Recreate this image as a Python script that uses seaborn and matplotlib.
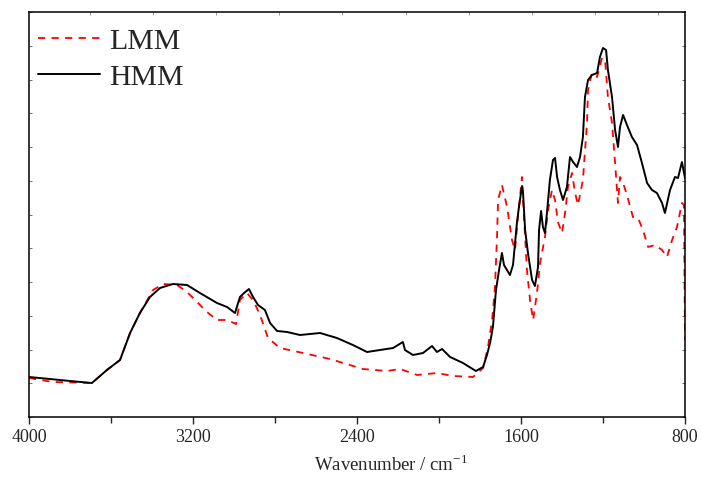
import numpy as np
import pandas as pd
import matplotlib
matplotlib.use("Agg")
import matplotlib.pyplot as plt
from matplotlib.ticker import MultipleLocator, NullFormatter
import seaborn as sns

# HMM spectrum (wavenumber, absorbance a.u.)
wn_hmm = [4000, 3898, 3800, 3693, 3620, 3556, 3507, 3459, 3410, 3361, 3298, 3229, 3166, 3083,
          3034, 2995, 2971, 2951, 2927, 2907, 2883, 2849, 2824, 2790, 2741, 2678, 2580, 2498,
          2420, 2351, 2288, 2224, 2176, 2166, 2127, 2078, 2034, 2010, 1985, 1946, 1883, 1820,
          1785, 1766, 1751, 1737, 1722, 1707, 1693, 1683, 1654, 1639, 1620, 1610, 1595, 1590,
          1580, 1566, 1546, 1532, 1517, 1512, 1502, 1493, 1483, 1473, 1459, 1444, 1434, 1424,
          1410, 1395, 1376, 1361, 1346, 1327, 1312, 1298, 1288, 1273, 1254, 1229, 1215, 1200,
          1185, 1176, 1156, 1141, 1127, 1117, 1102, 1083, 1059, 1034, 1010, 985, 961, 937,
          912, 898, 873, 849, 834, 815, 800]
abs_hmm = [0.40, 0.38, 0.36, 0.34, 0.47, 0.57, 0.84, 1.04, 1.20, 1.29, 1.33, 1.32, 1.24, 1.14,
           1.10, 1.04, 1.20, 1.24, 1.28, 1.20, 1.12, 1.07, 0.94, 0.86, 0.85, 0.82, 0.84, 0.79,
           0.72, 0.65, 0.67, 0.69, 0.75, 0.67, 0.62, 0.64, 0.71, 0.65, 0.68, 0.60, 0.54, 0.46,
           0.50, 0.62, 0.74, 0.90, 1.27, 1.47, 1.64, 1.52, 1.42, 1.52, 1.94, 2.10, 2.31, 2.24,
           1.87, 1.64, 1.37, 1.31, 1.50, 1.87, 2.06, 1.90, 1.84, 2.05, 2.37, 2.57, 2.59, 2.40,
           2.27, 2.17, 2.30, 2.60, 2.55, 2.50, 2.60, 2.80, 3.20, 3.37, 3.42, 3.44, 3.60, 3.69,
           3.67, 3.47, 3.20, 2.87, 2.70, 2.90, 3.02, 2.92, 2.80, 2.72, 2.54, 2.34, 2.27, 2.24,
           2.14, 2.04, 2.27, 2.40, 2.39, 2.55, 2.39]

# LMM spectrum
wn_lmm = [4000, 3883, 3693, 3620, 3556, 3507, 3459, 3395, 3346, 3278, 3229, 3180, 3132, 3083,
          3034, 2990, 2971, 2937, 2907, 2873, 2834, 2776, 2663, 2532, 2371, 2254, 2190, 2107,
          2010, 1932, 1834, 1785, 1761, 1741, 1727, 1717, 1712, 1693, 1668, 1644, 1629, 1615,
          1595, 1590, 1571, 1556, 1541, 1522, 1507, 1483, 1468, 1449, 1434, 1420, 1400, 1385,
          1371, 1351, 1337, 1322, 1298, 1278, 1273, 1254, 1229, 1205, 1190, 1176, 1156, 1141,
          1127, 1117, 1102, 1083, 1054, 1029, 1005, 980, 946, 912, 888, 863, 839, 815, 805, 800]
abs_lmm = [0.39, 0.35, 0.34, 0.47, 0.57, 0.84, 1.04, 1.27, 1.33, 1.32, 1.25, 1.15, 1.05, 0.97,
           0.97, 0.93, 1.17, 1.24, 1.17, 1.02, 0.79, 0.69, 0.64, 0.58, 0.48, 0.46, 0.48, 0.42,
           0.44, 0.41, 0.40, 0.49, 0.70, 0.97, 1.30, 1.80, 2.17, 2.32, 2.10, 1.77, 1.67, 2.00,
           2.40, 2.17, 1.47, 1.17, 0.97, 1.24, 1.54, 1.80, 2.07, 2.27, 2.17, 1.95, 1.84, 2.04,
           2.30, 2.44, 2.25, 2.12, 2.37, 2.94, 3.27, 3.44, 3.40, 3.59, 3.57, 3.20, 2.94, 2.54,
           2.14, 2.40, 2.34, 2.22, 2.00, 1.99, 1.87, 1.70, 1.72, 1.67, 1.60, 1.77, 1.90, 2.14, 2.12, 0.77]

x_ticks = [4000, 3200, 2400, 1600, 800]

sns.set_style("ticks")
plt.rcParams['font.family'] = ['Liberation Serif', 'DejaVu Serif']
plt.rcParams['mathtext.fontset'] = 'custom'
plt.rcParams['mathtext.rm'] = 'Liberation Serif'

fig = plt.figure(figsize=(7.01, 4.80), dpi=100)
ax = fig.add_axes([29/701, 1-417/480, (685-29)/701, (417-12)/480])

df_l = pd.DataFrame({"wn": wn_lmm, "a": abs_lmm})
df_h = pd.DataFrame({"wn": wn_hmm, "a": abs_hmm})

sns.lineplot(data=df_l, x="wn", y="a", ax=ax, color="#ff0000", lw=1.3,
             estimator=None, sort=False, label="LMM", dashes=False)
ax.lines[-1].set_dashes((4, 3.5))
sns.lineplot(data=df_h, x="wn", y="a", ax=ax, color="black", lw=1.4,
             estimator=None, sort=False, label="HMM")

ax.set_xlim(4000, 800)
ax.set_ylim(0, 4.05)
ax.set_xticks(x_ticks)
ax.set_xticklabels([str(t) for t in x_ticks])
ax.xaxis.set_minor_locator(MultipleLocator(400))
ax.tick_params(axis='x', which='major', direction='out', length=5, width=1.0,
               labelsize=13, pad=4, top=False)
ax.tick_params(axis='x', which='minor', direction='out', length=4, width=1.0, top=False)

ax.set_yticks(np.linspace(0, 4.05, 13))
ax.yaxis.set_major_formatter(NullFormatter())
ax.tick_params(axis='y', which='major', direction='in', length=2, width=0.6,
               left=True, right=True, color='#555555')

# top tiny ticks
sec = ax.secondary_xaxis('top')
sec.set_xticks([3703, 3395, 3087, 2779, 2471, 2163, 1855, 1547, 1239, 931])
sec.tick_params(axis='x', direction='in', length=2, width=0.6, color='#888888')
sec.set_xticklabels([])
sec.spines['top'].set_visible(False)

for s in ax.spines.values():
    s.set_linewidth(1.1)
    s.set_color('black')

ax.set_xlabel("Wavenumber / cm$^{-1}$", fontsize=13.5)
ax.xaxis.set_label_coords(0.552, -0.093)
ax.set_ylabel("")

leg = ax.legend(loc='upper left', bbox_to_anchor=(0.0, 0.983), frameon=False,
                fontsize=21.5, handlelength=2.07, handletextpad=0.33,
                labelspacing=0.3, borderaxespad=0.0, borderpad=0.3)

fig.savefig("out.png", dpi=100)
